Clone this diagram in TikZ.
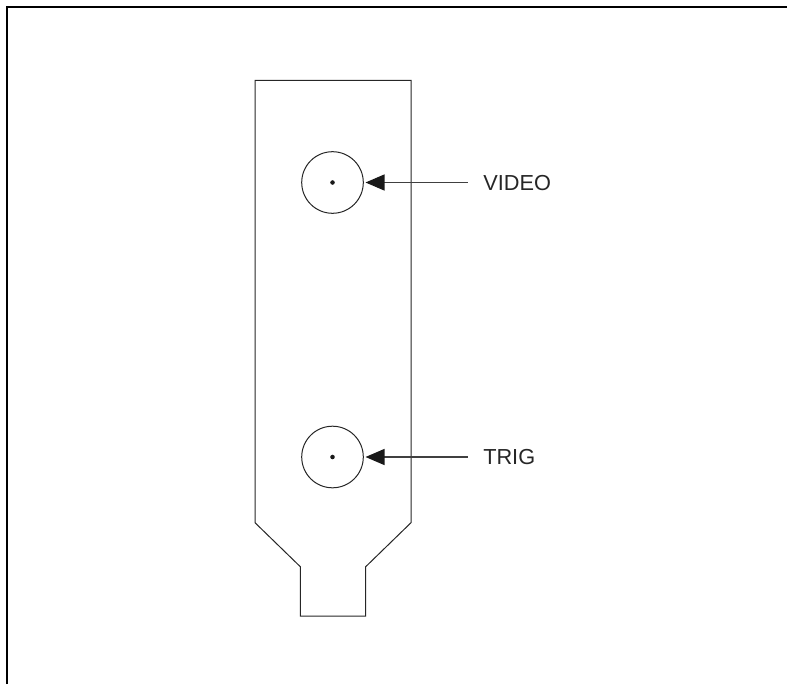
\documentclass[tikz,border=0pt]{standalone}
\usepackage{fontspec}
\setmainfont{Liberation Sans}
\usetikzlibrary{arrows.meta}
\tikzset{
  px/.style={x=0.75pt,y=-0.75pt},
  outline/.style={draw=black!85,line width=0.75pt,line join=miter},
  frameline/.style={draw=black,line width=1.5pt,line join=miter},
  bnc/.style={circle,draw=black!85,line width=0.75pt,minimum size=46.2pt,inner sep=0pt,fill=none},
  pin/.style={circle,fill=black!90,minimum size=3.4pt,inner sep=0pt},
  leader/.style={draw=black!75,line width=0.9pt,{Triangle[length=14.25pt,width=12pt,black!90]}-},
  lab/.style={anchor=west,inner sep=0pt,font=\fontsize{16.3pt}{18pt}\selectfont,text=black!85},
}
\begin{document}
\begin{tikzpicture}[px]
\useasboundingbox (0,0) rectangle (787,684);
\draw[frameline] (7,684) -- (7,7) -- (787,7);
\draw[outline] (255,80.3) -- (411,80.3) -- (411,522.7) -- (365.7,566.7) -- (365.7,616) -- (300.3,616) -- (300.3,566.7) -- (255,522.7) -- cycle;
\node[bnc] (video) at (332.5,182.5) {};
\node[pin] (vpin) at (332.5,182.5) {};
\node[bnc] (trig) at (332.5,457) {};
\node[pin] (tpin) at (332.5,457) {};
\node[lab] (vlab) at (483,183) {VIDEO};
\node[lab] (tlab) at (483,457) {TRIG};
\coordinate (vend) at (468,182.5);
\coordinate (tend) at (468,457);
\draw[leader] (video.east) ++(1.7,0) -- (vend);
\draw[leader] (trig.east) ++(1.7,0) -- (tend);
\end{tikzpicture}
\end{document}
